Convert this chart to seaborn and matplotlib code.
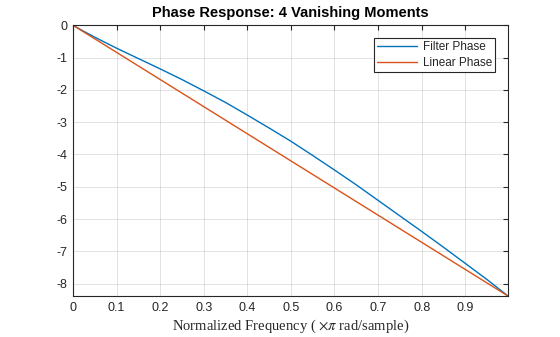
import numpy as np
import pandas as pd
import matplotlib
matplotlib.use("Agg")
import matplotlib.pyplot as plt
import seaborn as sns

freq = [0.0, 0.025, 0.05, 0.1, 0.15, 0.2, 0.25, 0.3, 0.35, 0.4, 0.45, 0.5, 0.55,
        0.6, 0.65, 0.7, 0.75, 0.8, 0.85, 0.9, 0.95, 0.998]
filter_phase = [0.0, -0.19, -0.37, -0.71, -1.03, -1.35, -1.68, -2.03, -2.39, -2.78,
                -3.18, -3.59, -4.03, -4.48, -4.94, -5.42, -5.90, -6.38, -6.87,
                -7.37, -7.87, -8.38]
lin_freq = [0.0, 0.998]
linear_phase = [0.0, -8.38]

x_ticks = [0, 0.1, 0.2, 0.3, 0.4, 0.5, 0.6, 0.7, 0.8, 0.9]
x_tick_labels = ["0", "0.1", "0.2", "0.3", "0.4", "0.5", "0.6", "0.7", "0.8", "0.9"]
y_ticks = [0, -1, -2, -3, -4, -5, -6, -7, -8]
y_tick_labels = ["0", "-1", "-2", "-3", "-4", "-5", "-6", "-7", "-8"]

sns.set_style("white")
plt.rcParams["font.family"] = ["Liberation Sans", "DejaVu Sans"]
plt.rcParams["axes.unicode_minus"] = False
plt.rcParams["mathtext.fontset"] = "stix"

df = pd.concat([
    pd.DataFrame({"f": freq, "phase": filter_phase, "series": "Filter Phase"}),
    pd.DataFrame({"f": lin_freq, "phase": linear_phase, "series": "Linear Phase"}),
])

fig = plt.figure(figsize=(5.6, 3.37), dpi=100)
ax = fig.add_axes([0.1304, 0.1217, 0.907 - 0.1304, 0.925 - 0.1217])
sns.lineplot(data=df, x="f", y="phase", hue="series",
             palette={"Filter Phase": "#0072BD", "Linear Phase": "#D95319"},
             linewidth=1.0, ax=ax, sort=False, estimator=None)

ax.set_xlim(0, 0.998)
ax.set_ylim(-8.38, 0)
ax.set_xticks(x_ticks)
ax.set_xticklabels(x_tick_labels)
ax.set_yticks(y_ticks)
ax.set_yticklabels(y_tick_labels)
ax.grid(True, color="#262626", alpha=0.15, linewidth=0.6)
ax.tick_params(direction="in", length=3.5, width=0.8, labelsize=9,
               colors="#262626", top=True, right=True, pad=4)
for s in ax.spines.values():
    s.set_color("#262626")
    s.set_linewidth(0.8)

ax.set_title("Phase Response: 4 Vanishing Moments", fontsize=10.5, fontweight="bold",
             color="#000000", pad=6)
ax.set_xlabel(r"Normalized Frequency ( $\times\pi$ rad/sample)", fontsize=10.5,
              family=["Liberation Serif", "DejaVu Serif"], color="#262626", labelpad=3)
ax.set_ylabel("")

leg = ax.legend(loc="upper right", fontsize=8.5, frameon=True, fancybox=False,
                edgecolor="#262626", framealpha=1, handlelength=3.4,
                borderpad=0.25, labelspacing=0.35, borderaxespad=1.1, handletextpad=0.5)
leg.get_frame().set_linewidth(0.8)
leg.set_title(None)

fig.savefig("out.png", dpi=100)
